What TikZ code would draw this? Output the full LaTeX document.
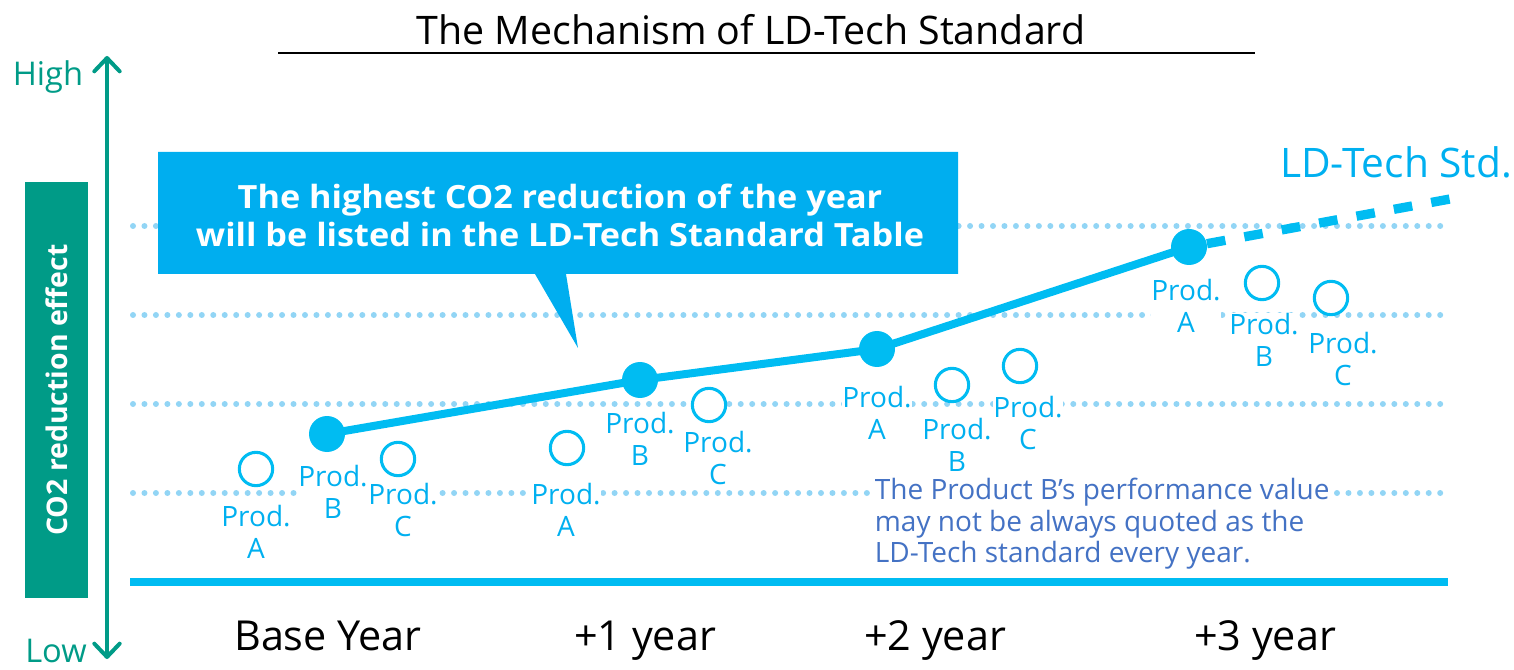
\documentclass[tikz,border=0pt]{standalone}
\usepackage{fontspec}
\setmainfont{Open Sans}
\newfontfamily\callfont[FakeStretch=1.07]{Open Sans}
\usetikzlibrary{arrows.meta}
\definecolor{tealg}{HTML}{009B87}
\definecolor{linecol}{HTML}{00BCF2}
\definecolor{callcol}{HTML}{00AEEF}
\definecolor{labcol}{HTML}{00B0F0}
\definecolor{dotcol}{HTML}{92D5F5}
\definecolor{notecol}{HTML}{4472C4}
\begin{document}
\begin{tikzpicture}[x=0.75pt,y=-0.75pt,
  gridline/.style={draw=dotcol,line width=4.5pt,line cap=round,dash pattern=on 0pt off 8.6pt},
  basebar/.style={draw=linecol,line width=5.5pt},
  axisarrow/.style={draw=tealg,line width=3pt,line cap=round,line join=round,
     {Straight Barb[length=10pt,width=19pt,line width=3pt,round]}-{Straight Barb[length=10pt,width=19pt,line width=3pt,round]}},
  axistext/.style={text=tealg,font=\fontsize{24.5}{26}\selectfont},
  ybox/.style={fill=tealg,text=white,font=\bfseries\fontsize{21.3}{24}\selectfont,minimum width=312pt,minimum height=47.25pt,rotate=90,inner sep=0pt},
  callout/.style={fill=callcol},
  calltext/.style={text=white,font=\callfont\bfseries\fontsize{24}{28.5}\selectfont,align=center},
  opencirc/.style={circle,draw=linecol,line width=2.3pt,fill=white,minimum size=25pt,inner sep=0pt},
  dot/.style={circle,fill=linecol,minimum size=27pt,inner sep=0pt},
  mainline/.style={draw=linecol,line width=6pt,line join=round},
  dashline/.style={draw=linecol,line width=7pt,dash pattern=on 14pt off 14.5pt},
  prodlabel/.style={text=labcol,font=\fontsize{21}{24.5}\selectfont,align=center,fill=white,inner sep=0pt},
  notetext/.style={text=notecol,font=\fontsize{21}{23.6}\selectfont,align=left,fill=white,inner sep=2pt,anchor=west},
  yeartext/.style={text=black,font=\fontsize{31}{32}\selectfont,anchor=base},
  titletext/.style={text=black,font=\fontsize{29.5}{31}\selectfont},
  stdtext/.style={text=labcol,font=\fontsize{30.5}{32}\selectfont}]
\useasboundingbox (0,0) rectangle (1514,670);

% title
\node[titletext] (title) at (751,30) {The Mechanism of LD-Tech Standard};
\coordinate (ul1) at (278,53);
\coordinate (ul2) at (1255,53);
\draw[line width=1.5pt] (ul1) -- (ul2);

% dotted grid lines
\foreach \i/\yy in {1/226,2/315,3/404,4/493}{
  \coordinate (gl\i) at (133,\yy);
  \coordinate (gr\i) at (1450,\yy);
  \draw[gridline] (gl\i) -- (gr\i);
}
% base bar
\coordinate (bb1) at (130,582);
\coordinate (bb2) at (1448,582);
\draw[basebar] (bb1) -- (bb2);

% vertical axis
\coordinate (atop) at (107,56);
\coordinate (abot) at (107,659);
\draw[axisarrow] (abot) -- (atop);
\node[axistext] (high) at (48,77) {High};
\node[axistext] (low) at (56,651) {Low};
\node[ybox] (ylab) at (56.5,390) {CO2 reduction effect};

% callout
\fill[callout] (158,152) -- (958,152) -- (958,274) -- (566,274) -- (578,348) -- (535,274) -- (158,274) -- cycle;
\node[calltext] (ctext) at (560,215) {The highest CO2 reduction of the year\\ will be listed in the LD-Tech Standard Table};

% open circles
\node[opencirc] (c0a) at (256,469) {};
\node[opencirc] (c0c) at (398,459) {};
\node[opencirc] (c1a) at (567,448) {};
\node[opencirc] (c1c) at (709,405) {};
\node[opencirc] (c2b) at (952,385) {};
\node[opencirc] (c2c) at (1020,366) {};
\node[opencirc] (c3b) at (1262,283) {};
\node[opencirc] (c3c) at (1331,298) {};

% labels
\node[prodlabel] (l0a) at (256,532) {Prod.\\A};
\node[prodlabel] (l0b) at (333,492) {Prod.\\B};
\node[prodlabel] (l0c) at (403,510) {Prod.\\C};
\node[prodlabel] (l1a) at (566,510) {Prod.\\A};
\node[prodlabel] (l1c) at (718,458) {Prod.\\C};
\node[prodlabel] (l1b) at (640,439) {Prod.\\B};
\node[prodlabel] (l2b) at (957,445) {Prod.\\B};
\node[prodlabel] (l2c) at (1028,423) {Prod.\\C};
\node[prodlabel] (l2a) at (877,413) {Prod.\\A};
\node[prodlabel] (l3b) at (1264,340) {Prod.\\B};
\node[prodlabel] (l3c) at (1343,359) {Prod.\\C};
\node[prodlabel] (l3a) at (1186,306) {Prod.\\A};

% main line with dots
\node[dot] (d0) at (327,434) {};
\node[dot] (d1) at (640,380) {};
\node[dot] (d2) at (877,349) {};
\node[dot] (d3) at (1189,247) {};
\coordinate (dend) at (1450,199);
\draw[mainline] (d0.center) -- (d1.center) -- (d2.center) -- (d3.center);
\draw[dashline] (d3) -- (dend);
\node[stdtext] (std) at (1396,162) {LD-Tech Std.};

% note
\node[notetext] (note) at (872,524) {The Product B’s performance value\\may not be always quoted as the\\LD-Tech standard every year.};

% years
\node[yeartext] (y0) at (328,650) {Base Year};
\node[yeartext] (y1) at (645,650) {+1 year};
\node[yeartext] (y2) at (935,650) {+2 year};
\node[yeartext] (y3) at (1265,650) {+3 year};
\end{tikzpicture}
\end{document}
